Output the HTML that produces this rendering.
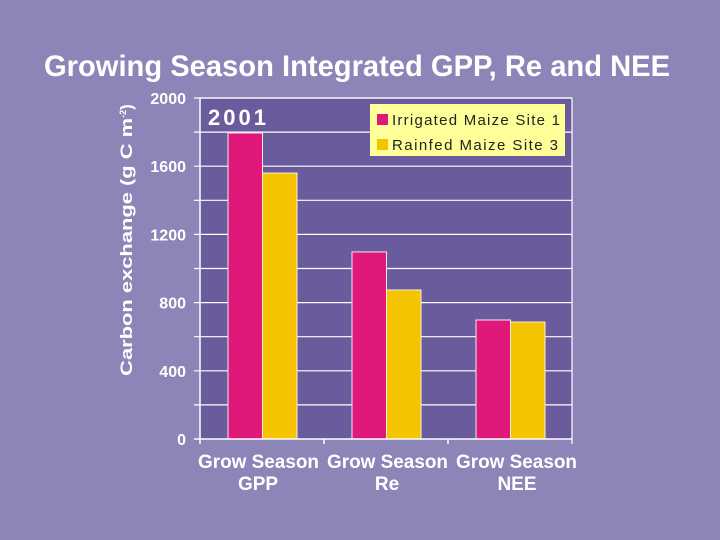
<!DOCTYPE html>
<html><head><meta charset="utf-8"><style>
html,body{margin:0;padding:0;background:#8d84b7;}
svg{display:block;font-family:"Liberation Sans",Arial,sans-serif;}
</style></head><body>
<svg id="chart" width="720" height="540" viewBox="0 0 720 540">
<rect x="0" y="0" width="720" height="540" fill="#8d84b7"/>
<text x="357" y="76" text-anchor="middle" font-size="30" font-weight="bold" fill="#fff" textLength="626" lengthAdjust="spacingAndGlyphs">Growing Season Integrated GPP, Re and NEE</text>
<rect x="200" y="98" width="372" height="341" fill="#6a5b9d"/>
<g id="grid"></g>
<g id="bars"></g>
<g id="axes"></g>
<text x="208" y="125" font-size="22" font-weight="bold" fill="#fff" letter-spacing="3">2001</text>
<g>
<rect x="370" y="104" width="195" height="52" fill="#ffff99"/>
<rect x="377" y="114" width="11" height="11" fill="#e0187a"/>
<text x="392" y="125" font-size="15" fill="#222" textLength="168" lengthAdjust="spacing">Irrigated Maize Site 1</text>
<rect x="377" y="139" width="11" height="11" fill="#f5c400"/>
<text x="392" y="150" font-size="15" fill="#222" textLength="166" lengthAdjust="spacing">Rainfed Maize  Site 3</text>
</g>
<text transform="translate(132,240) rotate(-90)" text-anchor="middle" font-size="17" font-weight="bold" fill="#fff"><tspan textLength="258" lengthAdjust="spacingAndGlyphs">Carbon exchange (g C m</tspan><tspan font-size="9" dy="-6">-2</tspan><tspan dy="6">)</tspan></text>
</svg>
<script>
const categories = ["GPP", "Re", "NEE"];
const irrigated = [1795, 1097, 698];
const rainfed = [1560, 874, 686];
const yTicks = [0, 400, 800, 1200, 1600, 2000];
const yMax = 2000;
const NS = "http://www.w3.org/2000/svg";
const X0 = 200, X1 = 572, Y0 = 439, Y1 = 98;
const catW = (X1 - X0) / categories.length;
function y(v){ return Y0 - (v / yMax) * (Y0 - Y1); }
function mk(tag, attrs, parent){ const e = document.createElementNS(NS, tag); for (const k in attrs) e.setAttribute(k, attrs[k]); parent.appendChild(e); return e; }
const grid = document.getElementById("grid"), bars = document.getElementById("bars"), axes = document.getElementById("axes");
for (let v = 200; v <= yMax; v += 200) {
  const l = mk("line", {x1: X0 - 6, x2: X1, y1: y(v), y2: y(v), stroke: "#fff", "stroke-width": 1.2}, grid);
  
  
}
yTicks.forEach(v => {
  const t = mk("text", {x: 186, y: y(v) + 6, "text-anchor": "end", "font-size": 16, "font-weight": "bold", fill: "#fff"}, axes);
  t.textContent = v;
  
  
});
const bw = 34.5;
categories.forEach((c, i) => {
  const gx = X0 + i * catW + 28;
  const b1 = mk("rect", {x: gx, y: y(irrigated[i]), width: bw, height: Y0 - y(irrigated[i]), fill: "#e0187a", stroke: "#f4e8f0", "stroke-width": 1}, bars);
  
  
  const b2 = mk("rect", {x: gx + bw, y: y(rainfed[i]), width: bw, height: Y0 - y(rainfed[i]), fill: "#f5c400", stroke: "#f8f0d8", "stroke-width": 1}, bars);
  
  
  const t1 = mk("text", {x: [198, 327, 456][i], y: 468, "font-size": 19, "font-weight": "bold", fill: "#fff", textLength: 121, lengthAdjust: "spacingAndGlyphs"}, axes);
  t1.textContent = "Grow Season";
  
  
  const t2 = mk("text", {x: [258, 387, 517][i], y: 490, "text-anchor": "middle", "font-size": 19, "font-weight": "bold", fill: "#fff"}, axes);
  t2.textContent = c;
  
  
});
const ax = mk("line", {x1: X0, x2: X0, y1: Y1, y2: Y0 + 5, stroke: "#fff", "stroke-width": 1.5}, axes);


const xa = mk("line", {x1: X0 - 6, x2: X1, y1: Y0, y2: Y0, stroke: "#fff", "stroke-width": 1.5}, axes);


const ra = mk("line", {x1: X1, x2: X1, y1: Y1, y2: Y0 + 5, stroke: "#fff", "stroke-width": 1.2}, axes);


const ta = mk("line", {x1: X0, x2: X1, y1: Y1, y2: Y1, stroke: "#fff", "stroke-width": 1.2}, axes);


for (let i = 1; i < categories.length; i++) {
  const tk = mk("line", {x1: X0 + i * catW, x2: X0 + i * catW, y1: Y0, y2: Y0 + 5, stroke: "#fff", "stroke-width": 1.5}, axes);
  
  
}
</script>
</body></html>
